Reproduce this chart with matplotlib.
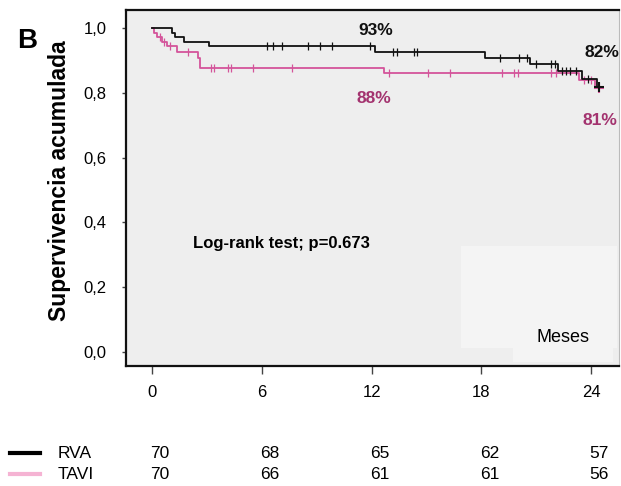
import matplotlib
matplotlib.use("Agg")
import matplotlib.pyplot as plt
import numpy as np
from matplotlib.patches import Rectangle
from matplotlib.lines import Line2D
from matplotlib.transforms import blended_transform_factory

# ---- data ----
rva_times = [0, 1.09, 1.24, 1.77, 3.1, 12.2, 18.2, 20.66, 22.17, 23.5, 24.3, 24.4]
rva_surv = [1.0, 0.986, 0.971, 0.957, 0.943, 0.927, 0.907, 0.888, 0.868, 0.844, 0.818, 0.818]
rva_censor = [6.27, 6.63, 7.09, 8.5, 9.18, 9.82, 11.9, 13.15, 13.4, 14.3, 14.5,
              19.0, 20.05, 20.5, 20.97, 21.8, 22.0, 22.4, 22.65, 22.85, 23.15, 23.8]

tavi_times = [0, 0.1, 0.3, 0.55, 0.8, 1.35, 2.5, 2.6, 12.7, 23.35, 24.2, 24.4]
tavi_surv = [1.0, 0.986, 0.971, 0.957, 0.943, 0.925, 0.906, 0.877, 0.860, 0.840, 0.815, 0.815]
tavi_censor = [0.45, 0.65, 1.0, 1.98, 3.22, 3.4, 4.13, 4.3, 5.5, 7.63, 12.97, 15.1, 16.3,
               19.1, 19.8, 20.0, 21.8, 22.1, 23.6, 24.0]

x_ticks = [0, 6, 12, 18, 24]
y_ticks = [0.0, 0.2, 0.4, 0.6, 0.8, 1.0]
y_ticklabels = ["0,0", "0,2", "0,4", "0,6", "0,8", "1,0"]
groups = ["RVA", "TAVI"]
at_risk_rva = [70, 68, 65, 62, 57]
at_risk_tavi = [70, 66, 61, 61, 56]
pct_labels = [("93%", 12.24, 0.991, "rva"), ("82%", 24.57, 0.923, "rva"),
              ("88%", 12.13, 0.784, "tavi"), ("81%", 24.48, 0.716, "tavi")]

# ---- style ----
C_RVA = "#111111"
C_TAVI = "#d4549a"
C_TAVI_TXT = "#a3336f"
C_TAVI_LEG = "#f5b3d3"
SANS = ["Liberation Sans", "DejaVu Sans"]
NARROW = ["Liberation Sans Narrow", "Liberation Sans", "DejaVu Sans"]

plt.rcParams["font.family"] = SANS

fig = plt.figure(figsize=(6.21, 4.86), dpi=100)
ax = fig.add_axes([0.2029, 0.2469, 0.7939, 0.7325])
ax.set_facecolor("#eeeeee")

# lighter box behind "Meses"
ax.add_patch(Rectangle((0.679, 0.0497), 0.316, 0.287, transform=ax.transAxes,
                       facecolor="#f4f4f4", edgecolor="none", zorder=0.5))
ax.add_patch(Rectangle((0.784, 0.012), 0.204, 0.04, transform=ax.transAxes,
                       facecolor="#f4f4f4", edgecolor="none", zorder=0.5))

def surv_at(times, surv, t):
    idx = np.searchsorted(np.asarray(times), t, side="right") - 1
    return np.asarray(surv)[idx]

for times, surv, cens, col in [(tavi_times, tavi_surv, tavi_censor, C_TAVI),
                               (rva_times, rva_surv, rva_censor, C_RVA)]:
    ax.step(times, surv, where="post", color=col, lw=1.3, zorder=3)
    ax.plot(cens, [surv_at(times, surv, t) for t in cens], ls="none", marker="|",
            ms=5.5, mew=0.9, color=col, zorder=3)
    ax.plot([times[-1]], [surv[-1]], ls="none", marker="+", ms=7, mew=1.5,
            color=col, zorder=4)

ax.set_xlim(-1.42, 25.52)
ax.set_ylim(-0.0432, 1.0556)
ax.set_xticks(x_ticks)
ax.set_xticklabels([str(v) for v in x_ticks])
ax.set_yticks(y_ticks)
ax.set_yticklabels(y_ticklabels)
ax.tick_params(axis="x", direction="out", length=6, width=1, color="#444444",
               labelsize=12, pad=8)
ax.tick_params(axis="y", direction="out", length=3, width=1, color="#444444",
               labelsize=12, pad=11)
for s in ["top", "left", "bottom"]:
    ax.spines[s].set_color("#111111")
    ax.spines[s].set_linewidth(1.6)
ax.spines["right"].set_color("#bbbbbb")
ax.spines["right"].set_linewidth(0.8)

ax.set_ylabel("Supervivencia acumulada", fontsize=16.5, fontweight="bold")
ax.yaxis.set_label_coords(-0.112, 0.52)

for txt, x, y, g in pct_labels:
    ax.text(x, y, txt, ha="center", va="center", fontsize=12.5, fontweight="bold",
            color=C_RVA if g == "rva" else C_TAVI_TXT)

ax.text(0.136, 0.343, "Log-rank test; p=0.673", transform=ax.transAxes, ha="left",
        va="center", fontsize=12, fontweight="bold", family=NARROW)
ax.text(0.886, 0.079, "Meses", transform=ax.transAxes, ha="center", va="center",
        fontsize=13, family=NARROW)

fig.text(27 / 621, 1 - 41 / 486, "B", ha="center", va="center", fontsize=20,
         fontweight="bold")

# risk table
tr = blended_transform_factory(ax.transData, fig.transFigure)
for vals, yy in [(at_risk_rva, 1 - 453 / 486), (at_risk_tavi, 1 - 474 / 486)]:
    for t, v in zip(x_ticks, vals):
        fig.text(t + 0.45, yy, str(v), transform=tr, ha="center", va="center",
                 fontsize=12.5, family=NARROW)

for name, col, yy in [(groups[0], "#000000", 1 - 453 / 486), (groups[1], C_TAVI_LEG, 1 - 474 / 486)]:
    fig.add_artist(Line2D([10 / 621, 40 / 621], [yy, yy], color=col, lw=3,
                          transform=fig.transFigure))
    fig.text(58 / 621, yy, name, ha="left", va="center", fontsize=12.5, family=NARROW)

fig.savefig("out.png", dpi=100)
